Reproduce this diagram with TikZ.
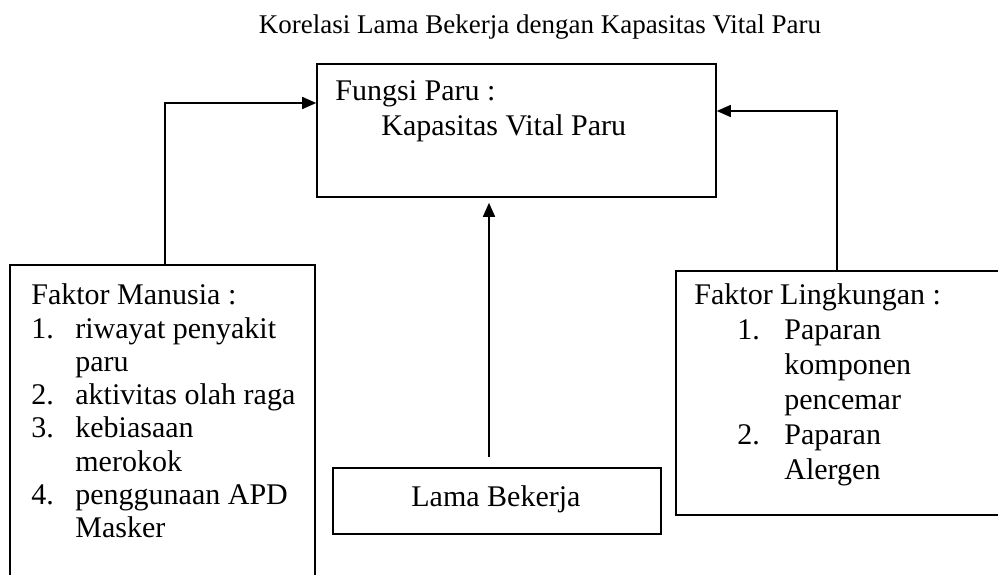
\documentclass[tikz,border=0pt]{standalone}
\usepackage{fontspec}
\setmainfont{Liberation Serif}
\usetikzlibrary{arrows.meta}

\begin{document}
\begin{tikzpicture}[x=1pt,y=-1pt,
  box/.style={draw,line width=1.6pt,inner sep=0pt},
  txt/.style={inner sep=0pt,align=left,font=\fontsize{30}{35}\selectfont},
  arr/.style={line width=1.6pt,-{Triangle[length=14pt,width=12pt]}}]
  \useasboundingbox (0,0) rectangle (998,575);
  \clip (0,0) rectangle (998,575);

  \node[txt,anchor=base,font=\fontsize{27}{32}\selectfont] (title) at (540,34) {Korelasi Lama Bekerja dengan Kapasitas Vital Paru};

  \node[box,minimum width=399pt,minimum height=133pt] (paru) at (516.5,130.5) {};
  \node[box,minimum width=328pt,minimum height=66pt] (lama) at (497,501) {};
  \node[box,minimum width=305pt,minimum height=345pt] (manusia) at (162.5,437.5) {};
  \node[box,minimum width=354pt,minimum height=244pt] (lingkungan) at (853,393) {};

  \node[txt,anchor=north west] (paruTxt) at ([shift={(19,17.5)}]paru.north west) {
    Fungsi Paru :\\
    \hspace*{46pt}Kapasitas Vital Paru
  };
  \node[txt,anchor=base west] (lamaTxt) at ([shift={(79,39)}]lama.north west) {Lama Bekerja};
  \node[txt,anchor=north west,font=\fontsize{30}{33.3}\selectfont] (manusiaTxt) at ([shift={(22,19.5)}]manusia.north west) {
    Faktor Manusia :\\
    \makebox[44pt][l]{1.}riwayat penyakit\\
    \hspace*{44pt}paru\\
    \makebox[44pt][l]{2.}aktivitas olah raga\\
    \makebox[44pt][l]{3.}kebiasaan\\
    \hspace*{44pt}merokok\\
    \makebox[44pt][l]{4.}penggunaan APD\\
    \hspace*{44pt}Masker
  };
  \node[txt,anchor=north west] (lingkunganTxt) at ([shift={(19,13.5)}]lingkungan.north west) {
    Faktor Lingkungan :\\
    \hspace*{43pt}\makebox[47pt][l]{1.}Paparan\\
    \hspace*{90pt}komponen\\
    \hspace*{90pt}pencemar\\
    \hspace*{43pt}\makebox[47pt][l]{2.}Paparan\\
    \hspace*{90pt}Alergen
  };

  \draw[arr] ([xshift=2.5pt]manusia.north) |- ([yshift=27.5pt]paru.west);
  \draw[arr] ([xshift=-16pt]lingkungan.north) |- ([yshift=19.5pt]paru.east);
  \draw[arr,shorten <=10pt,shorten >=5pt] ([xshift=-8pt]lama.north) -- ([xshift=-8pt]lama.north |- paru.south);
\end{tikzpicture}
\end{document}
